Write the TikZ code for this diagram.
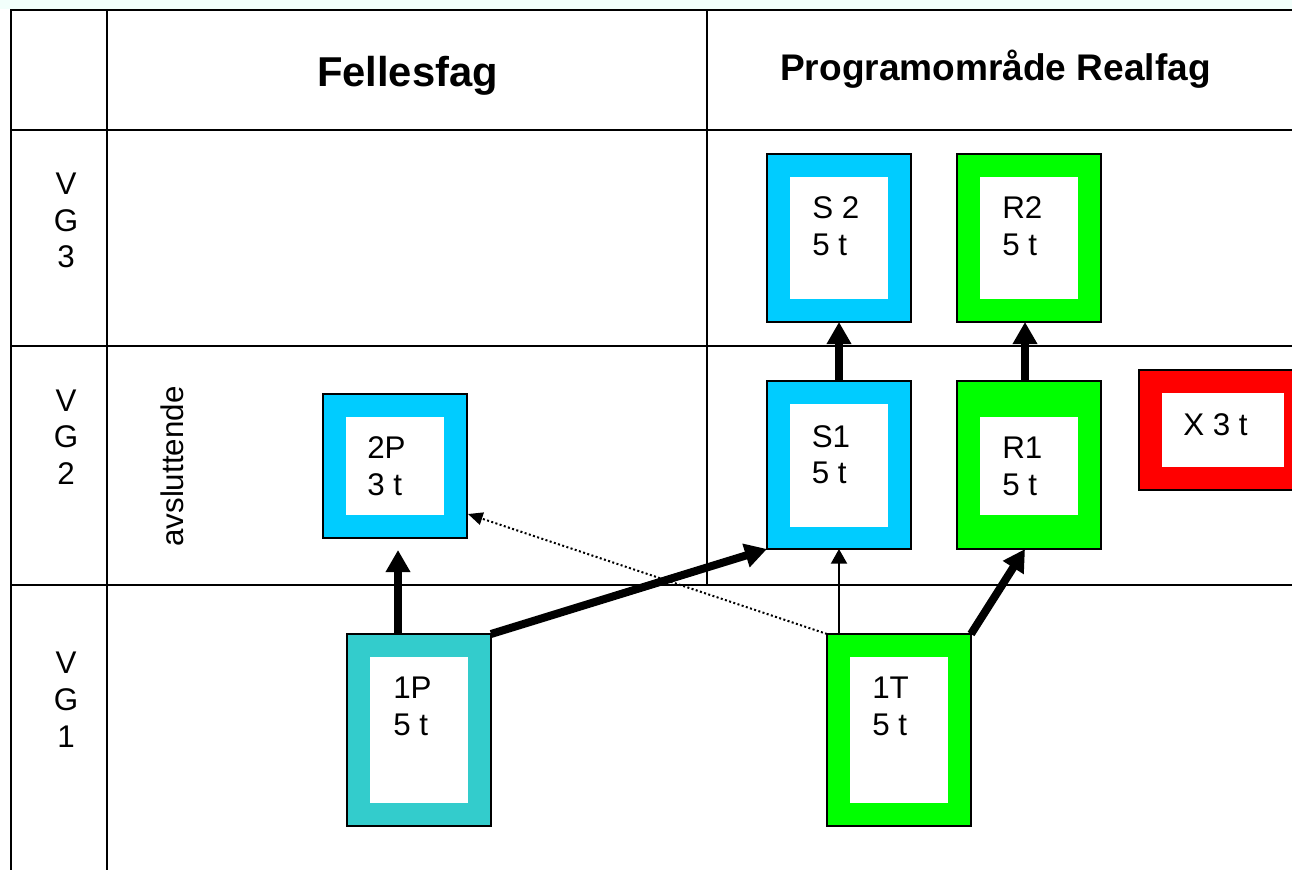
\documentclass[tikz,border=0pt]{standalone}
\usepackage{fontspec}
\setmainfont{Liberation Sans}
\usetikzlibrary{arrows.meta,calc}
\definecolor{sky}{HTML}{00CCFF}
\definecolor{lime}{HTML}{00FF00}
\definecolor{redbox}{HTML}{FF0000}
\definecolor{teal1}{HTML}{33CCCC}
\definecolor{mintbg}{HTML}{F2FFFB}
\newlength\pxu
\setlength\pxu{0.75pt}
\tikzset{
  gridline/.style={line width=1.5pt, line cap=rect},
  colbox/.style={draw=black, line width=1.2pt, rectangle, inner sep=0pt, outer sep=0pt},
  inbox/.style={fill=white, rectangle, inner sep=0pt, outer sep=0pt},
  lab/.style={anchor=base west, inner sep=0pt, font=\fontsize{23.5}{28}\selectfont},
  vglab/.style={anchor=base, inner sep=0pt, font=\fontsize{23.5}{28}\selectfont},
  hdr/.style={anchor=base, inner sep=0pt, font=\bfseries},
  thickarr/.style={line width=6pt, -{Triangle[length=16.5pt,width=17.5pt]}},
  thinarr/.style={line width=1.5pt, -{Triangle[length=11pt,width=12pt]}},
  dotarr/.style={line width=1.5pt, dash pattern=on 1.5pt off 1.8pt, -{Triangle[length=11pt,width=9.5pt]}}
}
\begin{document}
\begin{tikzpicture}[x=0.75pt,y=-0.75pt]
\useasboundingbox (0,0) rectangle (1292,870);
\begin{scope}
\clip (0,0) rectangle (1292,870);
\fill[mintbg] (0,0) rectangle (1292,9);
% table grid
\draw[gridline] (11,870) -- (11,10) -- (1300,10);
\draw[gridline] (107,10) -- (107,870);
\draw[gridline] (707,10) -- (707,585);
\draw[gridline] (11,130) -- (1300,130);
\draw[gridline] (11,346) -- (1300,346);
\draw[gridline] (11,585) -- (1300,585);

% headers
\node[hdr, font=\bfseries\fontsize{31.3}{36}\selectfont] (fell) at (407.5,87) {Fellesfag};
\node[hdr, font=\bfseries\fontsize{27.8}{32}\selectfont] (prog) at (995.5,81) {Programområde Realfag};

% row labels
\node[vglab] (v3a) at (66,195) {V};
\node[vglab] (v3b) at (66,231) {G};
\node[vglab] (v3c) at (66,267) {3};
\node[vglab] (v2a) at (66,411) {V};
\node[vglab] (v2b) at (66,447) {G};
\node[vglab] (v2c) at (66,484) {2};
\node[vglab] (v1a) at (66,673) {V};
\node[vglab] (v1b) at (66,710) {G};
\node[vglab] (v1c) at (66,747) {1};
\node[lab, rotate=90] (avsl) at (183,547) {avsluttende};

% boxes
\node[colbox, fill=sky, minimum width=144*\pxu, minimum height=168*\pxu] (S2) at (839,238) {};
\node[inbox, minimum width=98*\pxu, minimum height=122*\pxu] (S2i) at (839,238) {};
\node[lab] (S2a) at (812,219) {S 2};
\node[lab] (S2b) at (812,255) {5 t};

\node[colbox, fill=lime, minimum width=144*\pxu, minimum height=168*\pxu] (R2) at (1029,238) {};
\node[inbox, minimum width=98*\pxu, minimum height=122*\pxu] (R2i) at (1029,238) {};
\node[lab] (R2a) at (1002,219) {R2};
\node[lab] (R2b) at (1002,255) {5 t};

\node[colbox, fill=sky, minimum width=144*\pxu, minimum height=168*\pxu] (S1) at (839,465) {};
\node[inbox, minimum width=98*\pxu, minimum height=123*\pxu] (S1i) at (839,465.5) {};
\node[lab] (S1a) at (811.5,447) {S1};
\node[lab] (S1b) at (811.5,483) {5 t};

\node[colbox, fill=lime, minimum width=144*\pxu, minimum height=168*\pxu] (R1) at (1029,465) {};
\node[inbox, minimum width=98*\pxu, minimum height=98*\pxu] (R1i) at (1029,466) {};
\node[lab] (R1a) at (1002,458) {R1};
\node[lab] (R1b) at (1002,495) {5 t};

\node[colbox, fill=redbox, minimum width=168*\pxu, minimum height=120*\pxu] (X) at (1223,430) {};
\node[inbox, minimum width=122*\pxu, minimum height=74*\pxu] (Xi) at (1223,430) {};
\node[lab] (Xa) at (1183,435) {X 3 t};

\node[colbox, fill=sky, minimum width=144*\pxu, minimum height=144*\pxu] (2P) at (395,466) {};
\node[inbox, minimum width=98*\pxu, minimum height=98*\pxu] (2Pi) at (395,466) {};
\node[lab] (2Pa) at (367,458) {2P};
\node[lab] (2Pb) at (367,495) {3 t};

\node[colbox, fill=teal1, minimum width=144*\pxu, minimum height=192*\pxu] (1P) at (419,730) {};
\node[inbox, minimum width=98*\pxu, minimum height=146*\pxu] (1Pi) at (419,730) {};
\node[lab] (1Pa) at (393,698) {1P};
\node[lab] (1Pb) at (393,735) {5 t};

\node[colbox, fill=lime, minimum width=144*\pxu, minimum height=192*\pxu] (1T) at (899,730) {};
\node[inbox, minimum width=98*\pxu, minimum height=146*\pxu] (1Ti) at (899,730) {};
\node[lab] (1Ta) at (872,698) {1T};
\node[lab] (1Tb) at (872,735) {5 t};

% connectors
\draw[thickarr] ($(1P.north west)+(51,0)$) -- ($(2P.south west)+(75,12)$);
\draw[thickarr] (1P.north east) -- (S1.south west);
\draw[dotarr] (1T.north west) -- ($(2P.south east)+(1,-24)$);
\draw[thinarr] ($(1T.north west)+(12,0)$) -- (S1.south);
\draw[thickarr] (1T.north east) -- ($(R1.south)+(-4,0)$);
\draw[thickarr] (S1.north) -- (S2.south);
\draw[thickarr] ($(R1.north)+(-4,0)$) -- ($(R2.south)+(-4,0)$);
\end{scope}
\end{tikzpicture}
\end{document}
